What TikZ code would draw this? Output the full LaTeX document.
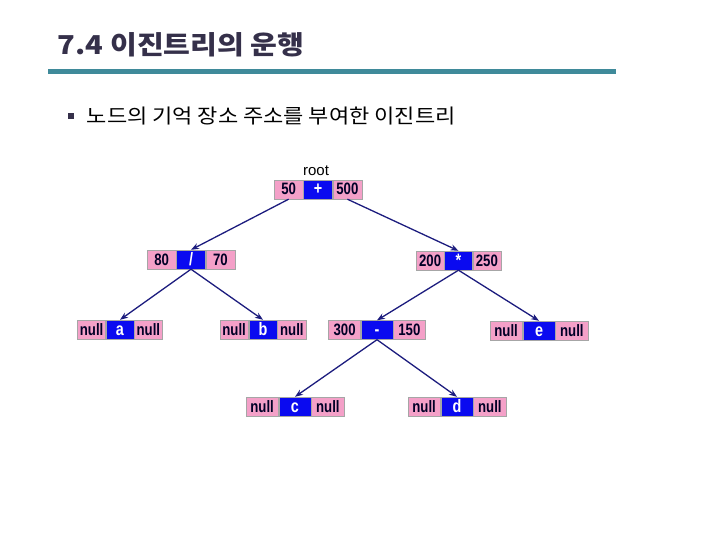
\documentclass[tikz,border=0pt]{standalone}
\usepackage{fontspec}
\setmainfont{Liberation Sans}
\newfontfamily\kor{Noto Sans CJK KR}
\newfontfamily\cellfont[FakeStretch=0.8]{Liberation Sans}
\usetikzlibrary{positioning, arrows.meta}

\definecolor{cellpink}{HTML}{F4A0C8}
\definecolor{cellblue}{HTML}{0A0AF0}
\definecolor{linknavy}{HTML}{1C1C7E}
\definecolor{titlegray}{HTML}{35304A}
\definecolor{ruleteal}{HTML}{3F8A9A}

% 노드 = 이름, 위치, 칸 폭, 왼쪽 주소, 데이터, 오른쪽 주소
\newcommand{\treenode}[6]{%
  \node[data, minimum width=#3] (#1) at (#2) {#5};
  \node[addr, minimum width=#3, left=0pt of #1] (#1L) {#4};
  \node[addr, minimum width=#3, right=0pt of #1] (#1R) {#6};}

\begin{document}
\begin{tikzpicture}[x=1pt, y=-1pt, >={Stealth[length=8pt, width=6pt]},
    addr/.style={draw=gray!70, fill=cellpink, inner sep=0pt, minimum height=19pt,
                 text height=12pt, text depth=1pt,
                 text=black!85!blue, font=\cellfont\bfseries\fontsize{16.5}{16.5}\selectfont},
    data/.style={draw=gray!70, fill=cellblue, inner sep=0pt, minimum height=19pt,
                 text height=12pt, text depth=1pt,
                 text=white, font=\cellfont\bfseries\fontsize{18}{18}\selectfont},
    link/.style={->, linknavy, line width=1.3pt}]

    \useasboundingbox (0,0) rectangle (720,540);

    % 제목
    \node[anchor=west, text=titlegray, xscale=1.12, transform shape,
          font=\kor\bfseries\fontsize{26}{26}\selectfont] (title) at (54,45) {7.4 이진트리의 운행};
    \draw[ruleteal, line width=5pt] (48,71.5) -- (616,71.5);

    % 항목
    \fill[titlegray] (68,113) rectangle (74,119);
    \node[anchor=west, xscale=1.1, transform shape,
          font=\kor\fontsize{20}{20}\selectfont] (item) at (83,116) {노드의 기억 장소 주소를 부여한 이진트리};

    % 트리 노드
    \treenode{root}{318,189.5}{29pt}{50}{+}{500}
    \treenode{div}{191,259.5}{29pt}{80}{/}{70}
    \treenode{mul}{458.5,260.5}{28pt}{200}{*}{250}
    \treenode{a}{120,329.5}{28pt}{null}{a}{null}
    \treenode{b}{263,329.5}{28.5pt}{null}{b}{null}
    \treenode{minus}{377,330}{32pt}{300}{-}{150}
    \treenode{e}{539,330.5}{32.5pt}{null}{e}{null}
    \treenode{c}{295,406.5}{32.5pt}{null}{c}{null}
    \treenode{d}{457,406.5}{32.5pt}{null}{d}{null}

    \node[above=1pt of root, xshift=-2pt, font=\fontsize{15}{15}\selectfont] (rootlabel) {root};

    % 링크
    \draw[link] (rootL.south) -- (div.north);
    \draw[link] (rootR.south) -- (mul.north);
    \draw[link] (div.south) -- (a.north);
    \draw[link] (div.south) -- (b.north);
    \draw[link] (mul.south) -- (minus.north);
    \draw[link] (mul.south) -- (e.north);
    \draw[link] (minus.south) -- (c.north);
    \draw[link] (minus.south) -- (d.north);

\end{tikzpicture}
\end{document}
